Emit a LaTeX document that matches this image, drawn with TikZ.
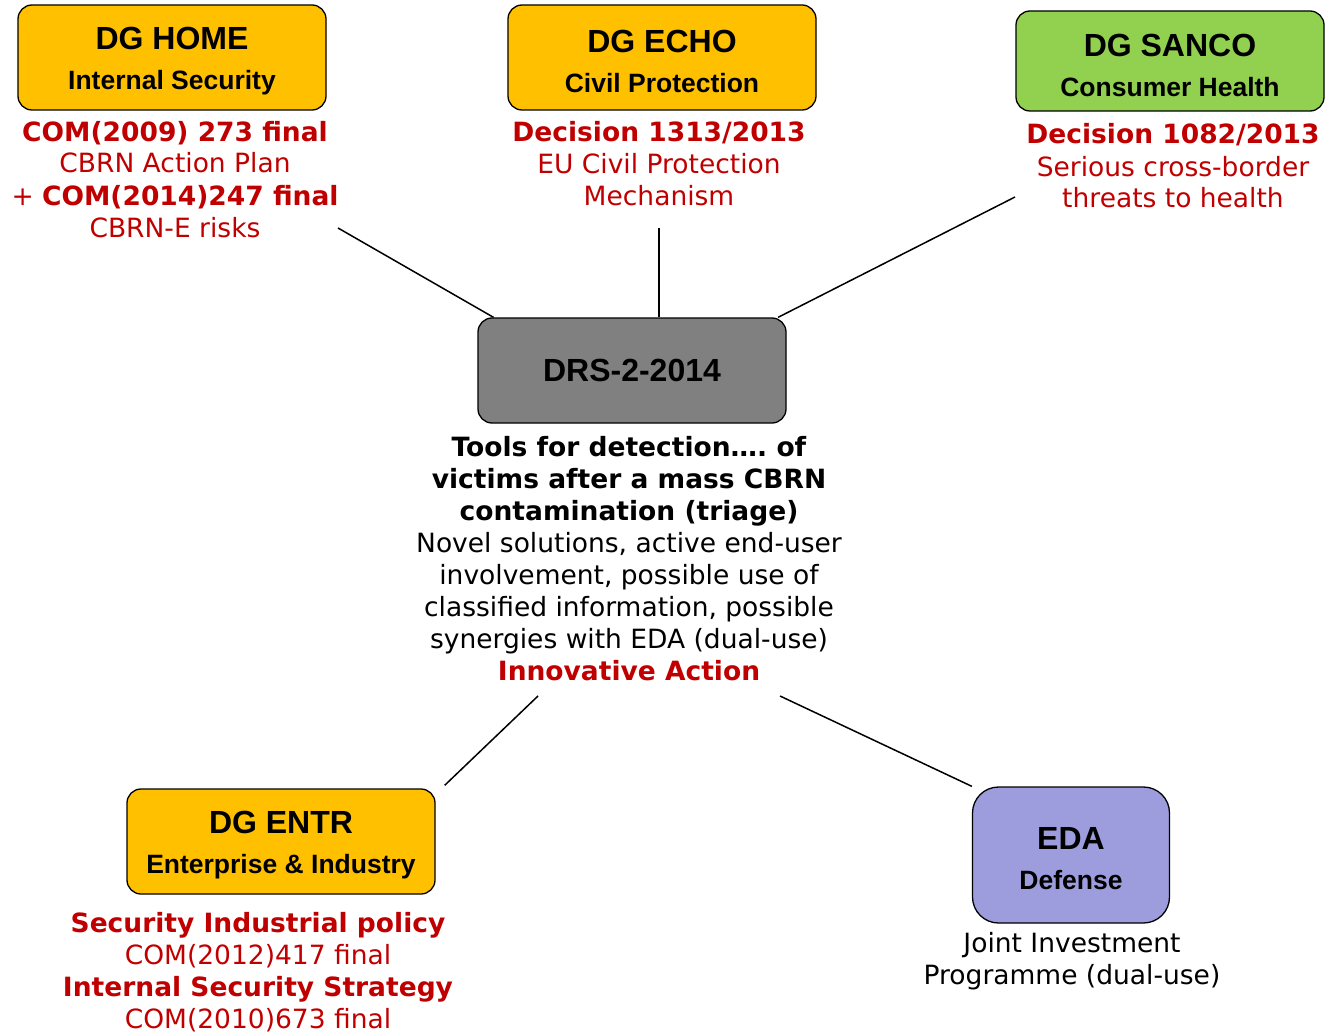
\documentclass[tikz,border=0pt]{standalone}
\usepackage{fontspec}
\setmainfont{DejaVu Sans}
\newfontfamily\boxfont{Liberation Sans}
\usetikzlibrary{positioning,calc}
\definecolor{dgorange}{RGB}{255,192,0}
\definecolor{dggreen}{RGB}{146,208,80}
\definecolor{edapurple}{RGB}{157,157,222}
\definecolor{drsgray}{RGB}{128,128,128}
\definecolor{actred}{RGB}{192,0,0}
\tikzset{link/.style={draw=black, line width=1.5pt},
  % base anchor sits on the last line
  reftext/.style={align=center, inner sep=0pt, anchor=base, text=#1,
    font={\fontsize{26.5}{32}\selectfont}},
  reftext/.default=actred,
  boxtext/.style={align=center, inner sep=0pt, yshift=-4pt,
    font={\boxfont\bfseries\fontsize{32}{40}\selectfont}}}
\newcommand\dgbox[5][orgbox]{
  \node[#1,
    label={[boxtext]center:{#4\\{\fontsize{26.5}{30}\selectfont #5}}}] (#2) at (#3) {};
}

\begin{document}
\begin{tikzpicture}[x=1pt,y=-1pt,
    orgbox/.style={
      draw=black,
      line width=1.3pt,
      fill=#1,
      rounded corners=14pt,
      align=center,
      inner sep=0pt,
      minimum width=308pt,
      minimum height=105pt,
      font={\boxfont\bfseries\fontsize{32}{38}\selectfont}
    },
    orgbox/.default=dgorange
  ]
  \useasboundingbox (0,0) rectangle (1329,1032);

  %% boxes
  \dgbox{home}{172,57.5}{DG HOME}{Internal Security}
  \dgbox{echo}{662,57.5}{DG ECHO}{Civil Protection}
  \dgbox[orgbox=dggreen, minimum height=100pt]{sanco}{1170,61}{DG SANCO}{Consumer Health}
  \dgbox{entr}{281,841.5}{DG ENTR}{Enterprise \& Industry}
  \dgbox[orgbox=edapurple, minimum width=197pt, minimum height=136pt,
    rounded corners=26pt]{eda}{1071,855}{EDA}{Defense}
  \node[orgbox=drsgray] (drs) at (632,370.5) {DRS-2-2014};

  %% texts under the boxes
  \node[reftext] (home-ref) at (175,237) {\textbf{COM(2009) 273 final}\\CBRN Action Plan\\
    + \textbf{COM(2014)247 final}\\CBRN-E risks};
  \node[reftext] (echo-ref) at (659,206) {\textbf{Decision 1313/2013}\\EU Civil Protection\\Mechanism};
  \node[reftext] (sanco-ref) at (1173,208) {\textbf{Decision 1082/2013}\\Serious cross-border\\
    threats to health};
  \node[reftext=black] (drs-ref) at (629,680) {\textbf{Tools for detection….\ of}\\
    \textbf{victims after a mass CBRN}\\\textbf{contamination (triage)}\\
    Novel solutions, active end-user\\involvement, possible use of\\
    classified information, possible\\synergies with EDA (dual-use)\\
    \textcolor{actred}{\textbf{Innovative Action}}};
  \node[reftext] (entr-ref) at (258,1028) {\textbf{Security Industrial policy}\\COM(2012)417 final\\
    \textbf{Internal Security Strategy}\\COM(2010)673 final};
  \node[reftext=black] (eda-ref) at (1072,984) {Joint Investment\\Programme (dual-use)};

  %% links
  \coordinate (home-end) at (338,228);
  \coordinate (echo-end) at (659,228);
  \coordinate (sanco-end) at (1015,197);
  \coordinate (act-l) at (538,696);
  \coordinate (act-r) at (780,696);
  \coordinate (entr-end) at ($(entr.north east)+(9,-3)$);

  \draw[link] (home-end) -- (drs.159);
  \draw[link] (echo-end) -- (echo-end |- drs.north);
  \draw[link] (sanco-end) -- (drs.20);
  \draw[link] (act-l) -- (entr-end);
  \draw[link] (act-r) -- (eda.north west);

\end{tikzpicture}
\end{document}
